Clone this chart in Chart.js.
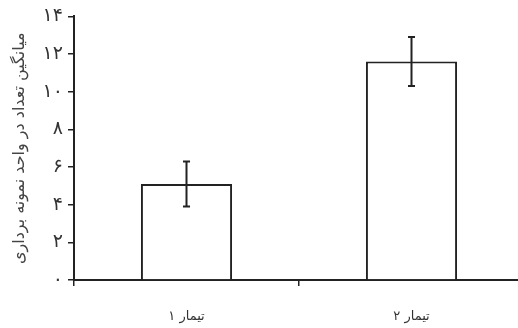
<!DOCTYPE html>
<html><head><meta charset="utf-8">
<script src="https://cdn.jsdelivr.net/npm/chart.js@4.4.1/dist/chart.umd.min.js"></script>
<style>
html,body{margin:0;padding:0;background:#fff;overflow:hidden;}
#wrap{width:526px;height:328px;position:relative;}
</style>
</head><body>
<div id="wrap"><canvas id="c" width="526" height="328"></canvas></div>
<script>
const categories = ["تیمار ۱", "تیمار ۲"];
const means = [5.1, 11.6];
const errors = [1.2, 1.3];
const yTickLabels = ["۰","۲","۴","۶","۸","۱۰","۱۲","۱۴"];
const yTitle = "میانگین تعداد در واحد نمونه برداری";

const errorBarPlugin = {
  id: 'errbars',
  afterDatasetsDraw(chart) {
    const ctx = chart.ctx;
    const y = chart.scales.y;
    const meta = chart.getDatasetMeta(0);
    ctx.save();
    ctx.strokeStyle = '#222';
    ctx.lineWidth = 2;
    meta.data.forEach((bar, i) => {
      const x = bar.x;
      const top = y.getPixelForValue(means[i] + errors[i]);
      const bot = y.getPixelForValue(means[i] - errors[i]);
      ctx.beginPath();
      ctx.moveTo(x, top); ctx.lineTo(x, bot);
      ctx.moveTo(x - 3.5, top); ctx.lineTo(x + 3.5, top);
      ctx.moveTo(x - 3.5, bot); ctx.lineTo(x + 3.5, bot);
      ctx.stroke();
    });
    ctx.restore();
  }
};

new Chart(document.getElementById('c'), {
  type: 'bar',
  data: {
    labels: categories,
    datasets: [{
      data: means,
      backgroundColor: '#fff',
      borderColor: '#222',
      borderWidth: 2,
      borderSkipped: 'bottom',
      categoryPercentage: 1,
      barPercentage: 0.405
    }]
  },
  options: {
    responsive: false,
    animation: false,
    layout: { padding: { top: 15, right: 2, left: 0, bottom: 0 } },
    plugins: { legend: { display: false }, tooltip: { enabled: false } },
    scales: {
      x: {
        grid: { drawOnChartArea: false, drawTicks: true, tickLength: 6, color: '#222', lineWidth: 1.5 },
        border: { color: '#222', width: 2 },
        ticks: { color: '#333', font: { family: 'DejaVu Sans', size: 13 }, padding: 23 },
        afterFit(s) { s.height = 48; }
      },
      y: {
        min: 0, max: 14,
        grid: { drawOnChartArea: false, drawTicks: true, tickLength: 6, color: '#222', lineWidth: 1.5 },
        border: { color: '#222', width: 2 },
        ticks: {
          stepSize: 2, color: '#333', padding: 5,
          font: { family: 'DejaVu Sans', size: 19 },
          callback: (v, i) => yTickLabels[i]
        },
        title: { display: true, text: yTitle, color: '#444', font: { family: 'DejaVu Sans', size: 16 }, padding: { top: 10, bottom: 0 } },
        afterFit(s) { s.width = 74; }
      }
    }
  },
  plugins: [errorBarPlugin]
});
</script>
</body></html>
